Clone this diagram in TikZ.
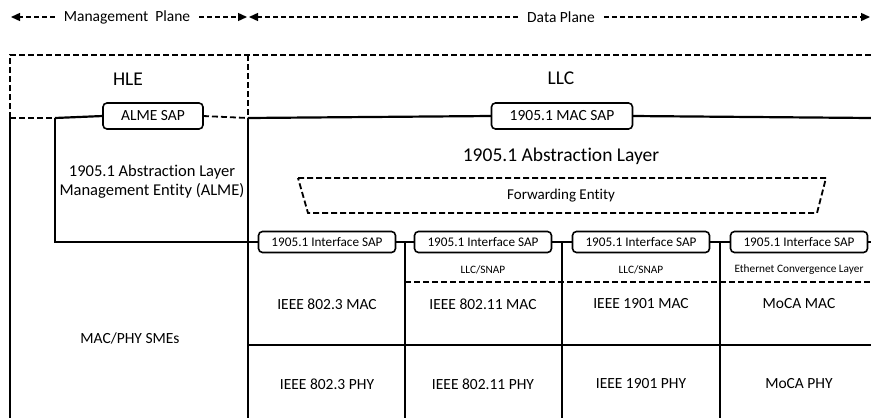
\documentclass[tikz,border=0pt]{standalone}
\usepackage{fontspec}
\setmainfont[Ligatures={NoCommon}]{Carlito}
\usetikzlibrary{arrows.meta}
\begin{document}
\begin{tikzpicture}[x=1pt,y=-1pt,
  every node/.style={inner sep=0pt, outer sep=0pt},
  solidline/.style={line width=2.2pt},
  dashline/.style={line width=1.8pt, dash pattern=on 6pt off 3pt},
  planeline/.style={line width=1.4pt, dash pattern=on 5pt off 3pt,
    -{Triangle[length=9pt,width=8pt]}},
  sapbox/.style={draw, fill=white, rounded corners=4pt, line width=1.6pt,
    align=center},
  topsap/.style={sapbox, minimum height=26pt, font=\fontsize{15.5}{18}\selectfont},
  ifsap/.style={sapbox, minimum width=137pt, minimum height=21pt,
    font=\fontsize{13.2}{15}\selectfont},
  biglabel/.style={font=\fontsize{19.5}{23}\selectfont},
  planelabel/.style={inner xsep=9pt, font=\fontsize{15.5}{18}\selectfont},
  midlabel/.style={font=\fontsize{15.5}{18}\selectfont, align=center},
  smalllabel/.style={font=\fontsize{11.3}{13}\selectfont}
]
\useasboundingbox (0,0) rectangle (871,418);

% planes along the top
\node[planelabel] (mgmt) at (127,17) {Management\ \ Plane};
\node[planelabel] (data) at (561,17) {Data Plane};
\coordinate (mL) at (11,17);
\coordinate (mR) at (247,17);
\coordinate (dL) at (249,17);
\coordinate (dR) at (870,17);
\draw[planeline] (mgmt.west) -- (mL);
\draw[planeline] (mgmt.east) -- (mR);
\draw[planeline] (data.west) -- (dL);
\draw[planeline] (data.east) -- (dR);

% corner points of the layer frame
\coordinate (hTL) at (10,55);
\coordinate (hBL) at (10,118);
\coordinate (hTR) at (248,55);
\coordinate (hBR) at (248,118);
\coordinate (rTop) at (871,55);
\coordinate (rSap) at (871,118);
\coordinate (aTL) at (55,118);
\coordinate (aBL) at (55,242);
\coordinate (rIf) at (871,242);

% service access points
\node[topsap, minimum width=100pt] (almesap) at (153,116) {ALME SAP};
\node[topsap, minimum width=141pt] (macsap) at (562,116) {1905.1 MAC SAP};
\node[ifsap] (if1) at (327,242) {1905.1 Interface SAP};
\node[ifsap] (if2) at (483,242) {1905.1 Interface SAP};
\node[ifsap] (if3) at (641,242) {1905.1 Interface SAP};
\node[ifsap] (if4) at (799,242) {1905.1 Interface SAP};

% HLE / LLC dashed frame
\draw[dashline] (hBL) -- (hTL) -- (rTop);
\draw[dashline] (hTR) -- (hBR);
\draw[dashline] (hBL) -- (aTL);
\draw[dashline] (almesap.east) -- (hBR);
\draw[solidline] (aTL) -- (almesap.west);

% solid body of the stack
\draw[solidline] (hBR) -- (macsap.west);
\draw[solidline] (macsap.east) -- (rSap);
\draw[solidline] (hBL) -- (10,418);
\draw[solidline] (hBR) -- (248,418);
\draw[solidline] (aTL) -- (aBL) -- (if1.west);
\draw[solidline] (if1.east) -- (if2.west);
\draw[solidline] (if2.east) -- (if3.west);
\draw[solidline] (if3.east) -- (if4.west);
\draw[solidline] (if4.east) -- (rIf);

% column dividers and MAC/PHY split
\draw[solidline] (405,242) -- (405,418);
\draw[solidline] (562,242) -- (562,418);
\draw[solidline] (720,242) -- (720,418);
\draw[solidline] (248,345) -- (871,345);
\draw[dashline] (405,282) -- (871,282);

% forwarding entity
\draw[dashline] (298,178) -- (826,178) -- (817,213) -- (308,213) -- cycle;
\node[font=\fontsize{15}{18}\selectfont] (fwd) at (561,196) {Forwarding Entity};

% layer labels
\node[biglabel] (hle) at (128,79) {HLE};
\node[biglabel] (llc) at (561,78) {LLC};
\node[biglabel] (absl) at (561,156) {1905.1 Abstraction Layer};
\node[font=\fontsize{16.5}{19}\selectfont, align=center] (alme) at (152,182)
  {1905.1 Abstraction Layer\\Management Entity (ALME)};
\node[midlabel] (smes) at (130,338) {MAC/PHY SMEs};

% convergence sublayers
\node[smalllabel] (snap1) at (483,270) {LLC/SNAP};
\node[smalllabel] (snap2) at (641,270) {LLC/SNAP};
\node[smalllabel] (ecl) at (799,270) {Ethernet Convergence Layer};

% MAC row
\node[midlabel] (mac1) at (327,304) {IEEE 802.3 MAC};
\node[midlabel] (mac2) at (483,304) {IEEE 802.11 MAC};
\node[midlabel] (mac3) at (641,304) {IEEE 1901 MAC};
\node[midlabel] (mac4) at (799,304) {MoCA MAC};

% PHY row
\node[midlabel] (phy1) at (327,384) {IEEE 802.3 PHY};
\node[midlabel] (phy2) at (483,384) {IEEE 802.11 PHY};
\node[midlabel] (phy3) at (641,384) {IEEE 1901 PHY};
\node[midlabel] (phy4) at (799,384) {MoCA PHY};
\end{tikzpicture}
\end{document}
